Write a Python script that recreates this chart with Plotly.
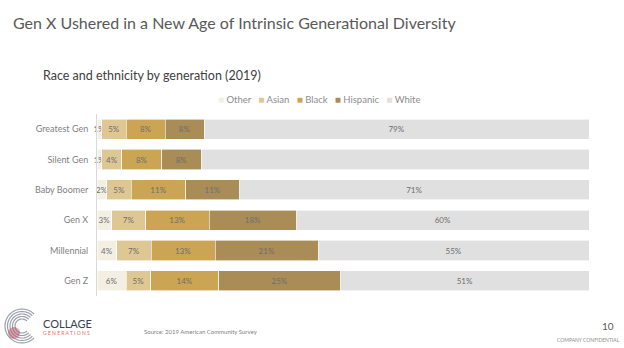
import numpy as np
import plotly.graph_objects as go

generations = ["Greatest Gen", "Silent Gen", "Baby Boomer", "Gen X", "Millennial", "Gen Z"]
groups = ["Other", "Asian", "Black", "Hispanic", "White"]
other = [1, 1, 2, 3, 4, 6]
asian = [5, 4, 5, 7, 7, 5]
black = [8, 8, 11, 13, 13, 14]
hispanic = [8, 8, 11, 18, 21, 25]
white = [79, 78, 71, 60, 55, 51]
series = [other, asian, black, hispanic, white]
colors = ["#f4efe3", "#dfc794", "#cba553", "#a98c56", "#e0e0e0"]

W, H = 624, 348
L, R, T, B = 97, 35, 114, 52
PW, PH = W - L - R, H - T - B


def px(x):
    return (x - L) / PW


def py(y):
    return (H - B - y) / PH


fig = go.Figure()
for name, vals, col in zip(groups, series, colors):
    fig.add_trace(go.Bar(
        y=generations, x=vals, name=name, orientation="h",
        marker=dict(color=col, line=dict(color="white", width=0.6)),
        text=vals, texttemplate="%{text}%", textposition="inside",
        insidetextanchor="middle", textangle=0, constraintext="none",
        cliponaxis=False,
        textfont=dict(family="Lato", size=8, color="#6e6e6e"),
        showlegend=False, hoverinfo="skip",
    ))

fig.update_layout(
    width=W, height=H, barmode="stack", barnorm="percent", bargap=0.34,
    margin=dict(l=L, r=R, t=T, b=B), paper_bgcolor="white", plot_bgcolor="white",
    uniformtext=dict(minsize=8, mode="show"),
    font=dict(family="Lato", color="#7f7f7f"),
    xaxis=dict(range=[0, 100], visible=False, fixedrange=True),
    yaxis=dict(categoryorder="array", categoryarray=generations[::-1],
               showline=True, linecolor="#d9d9d9", linewidth=1,
               ticks="", ticklabelstandoff=6, showgrid=False,
               tickfont=dict(family="Lato", size=9, color="#7f7f7f")),
)

ann = []
ann.append(dict(text="Gen X Ushered in a New Age of Intrinsic Generational Diversity",
                x=px(11), y=py(22), xref="paper", yref="paper", xanchor="left", yanchor="middle",
                showarrow=False, font=dict(family="Lato", size=16, color="#595959")))
ann.append(dict(text="Race and ethnicity by generation (2019)",
                x=px(41), y=py(75), xref="paper", yref="paper", xanchor="left", yanchor="middle",
                showarrow=False, font=dict(family="Lato", size=12.5, color="#404040")))
leg = "&nbsp;&nbsp;&nbsp;".join(
    f'<span style="color:{c};font-size:10px">■</span>&nbsp;{g}' for g, c in zip(groups, colors))
ann.append(dict(text=leg, x=px(216), y=py(99), xref="paper", yref="paper",
                xanchor="left", yanchor="middle", showarrow=False,
                font=dict(family="Lato", size=9.5, color="#8c8c8c")))
ann.append(dict(text="Source: 2019 American Community Survey", x=px(142), y=py(331),
                xref="paper", yref="paper", xanchor="left", yanchor="middle", showarrow=False,
                font=dict(family="Lato", size=6, color="#7f7f7f")))
ann.append(dict(text="10", x=px(616), y=py(326), xref="paper", yref="paper",
                xanchor="right", yanchor="middle", showarrow=False,
                font=dict(family="Lato", size=10, color="#595959")))
ann.append(dict(text="COMPANY CONFIDENTIAL", x=px(622), y=py(340), xref="paper", yref="paper",
                xanchor="right", yanchor="middle", showarrow=False,
                font=dict(family="Lato", size=5, color="#8c8c8c")))
ann.append(dict(text="COLLAGE", x=px(41), y=py(323), xref="paper", yref="paper",
                xanchor="left", yanchor="middle", showarrow=False,
                font=dict(family="Lato", size=11, color="#3a4150")))
ann.append(dict(text="G E N E R A T I O N S", x=px(41), y=py(333), xref="paper", yref="paper",
                xanchor="left", yanchor="middle", showarrow=False,
                font=dict(family="Lato", size=5, color="#e06f55")))

# logo decoration (concentric arcs)
shapes = []
cx, cy = 22, 326
for r in [7, 9.5, 12, 14.5, 17]:
    th = np.radians(np.linspace(45, 315, 40))
    pts = [(cx + r * np.cos(t), cy - r * np.sin(t)) for t in th]
    path = "M " + " L ".join(f"{px(a):.5f},{py(b):.5f}" for a, b in pts)
    shapes.append(dict(type="path", path=path, xref="paper", yref="paper",
                       line=dict(color="#9aa0aa", width=1.2)))
shapes.append(dict(type="circle", xref="paper", yref="paper",
                   x0=px(8), x1=px(20), y0=py(339), y1=py(327),
                   fillcolor="rgba(190,90,110,0.55)", line=dict(width=0)))
fig.update_layout(annotations=ann, shapes=shapes)

fig.write_html("out.html")
